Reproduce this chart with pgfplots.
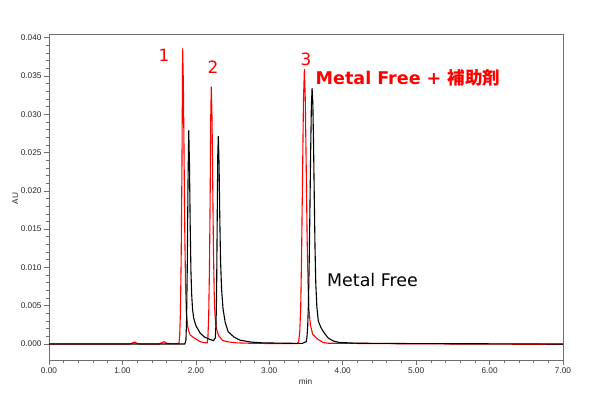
\documentclass[border=0pt]{standalone}
\usepackage{pgfplots}
\pgfplotsset{compat=1.18}
\usepackage{fontspec}
\setmainfont{Liberation Sans}
\newfontfamily\dejavu{DejaVu Sans}
\newfontfamily\cjk{Noto Sans CJK JP}
\definecolor{axgray}{RGB}{110,110,110}
\definecolor{tickcol}{RGB}{40,40,40}
\definecolor{pred}{RGB}{255,0,0}
\pgfplotstableread{
t v
0.00 0.00000
0.50 0.00000
1.10 0.00000
1.15 0.00020
1.17 0.00025
1.20 0.00005
1.25 0.00000
1.50 0.00000
1.54 0.00020
1.57 0.00030
1.60 0.00010
1.65 0.00005
1.75 0.00005
1.77 0.00012
1.78 0.00120
1.79 0.00420
1.80 0.01120
1.81 0.02220
1.82 0.03860
1.83 0.03400
1.84 0.02400
1.85 0.01400
1.86 0.00750
1.87 0.00420
1.89 0.00220
1.92 0.00120
1.96 0.00090
2.01 0.00060
2.06 0.00030
2.12 0.00017
2.155 0.00015
2.165 0.00100
2.175 0.00370
2.185 0.00970
2.195 0.01930
2.202 0.02920
2.21 0.03360
2.22 0.02960
2.23 0.02080
2.24 0.01210
2.25 0.00670
2.26 0.00380
2.28 0.00200
2.31 0.00110
2.36 0.00050
2.42 0.00030
2.55 0.00015
2.80 0.00008
3.20 0.00005
3.38 0.00005
3.40 0.00030
3.415 0.00160
3.428 0.00480
3.44 0.01170
3.453 0.02180
3.465 0.03160
3.478 0.03590
3.49 0.03200
3.503 0.02320
3.515 0.01400
3.528 0.00780
3.54 0.00450
3.56 0.00250
3.59 0.00130
3.65 0.00070
3.73 0.00020
3.80 0.00010
4.50 0.00005
5.50 0.00000
7.00 -0.00005
}\redtable
\pgfplotstableread{
t v
0.00 0.00000
1.00 0.00000
1.50 0.00000
1.85 0.00000
1.865 0.00050
1.873 0.00290
1.883 0.00990
1.893 0.02100
1.903 0.02790
1.913 0.02350
1.923 0.01550
1.933 0.00950
1.943 0.00650
1.955 0.00450
1.97 0.00340
2.00 0.00240
2.06 0.00140
2.12 0.00090
2.19 0.00060
2.24 0.00045
2.265 0.00080
2.275 0.00280
2.282 0.00600
2.29 0.01530
2.298 0.02450
2.306 0.02715
2.316 0.02350
2.326 0.01650
2.336 0.01100
2.35 0.00720
2.37 0.00460
2.40 0.00280
2.44 0.00160
2.52 0.00090
2.60 0.00050
2.75 0.00025
2.90 0.00015
3.20 0.00010
3.45 0.00008
3.503 0.00030
3.513 0.00090
3.523 0.00230
3.533 0.00530
3.543 0.01020
3.553 0.01720
3.563 0.02480
3.573 0.03100
3.583 0.03340
3.593 0.03150
3.603 0.02600
3.613 0.01900
3.623 0.01250
3.633 0.00800
3.648 0.00480
3.668 0.00300
3.70 0.00220
3.737 0.00160
3.80 0.00080
3.87 0.00040
3.95 0.00020
4.20 0.00010
5.00 0.00005
7.00 0.00000
}\blacktable
\begin{document}
\begin{tikzpicture}
\path[use as bounding box] (0,0) rectangle (600bp,393bp);
\begin{axis}[
  at={(49bp,33bp)}, anchor=south west,
  scale only axis, width=514bp, height=326bp,
  xmin=0, xmax=7, ymin=-0.00209, ymax=0.04048,
  axis line style={axgray, line width=0.8bp},
  tick style={axgray, line width=0.6bp},
  tick align=outside, tick pos=left,
  major tick length=5bp, minor tick length=3bp,
  xtick={0,1,2,3,4,5,6,7},
  ytick={0,0.005,0.01,0.015,0.02,0.025,0.03,0.035,0.04},
  minor x tick num=4, minor y tick num=4,
  scaled y ticks=false, scaled x ticks=false,
  ticklabel style={font=\fontsize{8.3}{9}\selectfont, text=tickcol},
  /pgf/number format/assume math mode=true,
  xticklabel style={/pgf/number format/.cd, fixed, fixed zerofill, precision=2},
  yticklabel style={/pgf/number format/.cd, fixed, fixed zerofill, precision=3},
  xticklabel shift=-1bp, yticklabel shift=-1bp,
]
\addplot[pred, line width=1.1bp, no marks] table[x=t, y=v] {\redtable};
\addplot[black, line width=1.1bp, no marks] table[x=t, y=v] {\blacktable};
\end{axis}
\node[rotate=90, font=\fontsize{8.3}{9}\selectfont, text=tickcol] at (15.3bp,194.5bp) {AU};
\node[font=\fontsize{8.3}{9}\selectfont, text=tickcol] at (305.5bp,11bp) {min};
\node[font=\dejavu\fontsize{17}{20}\selectfont, text=pred] at (164bp,338bp) {1};
\node[font=\dejavu\fontsize{17}{20}\selectfont, text=pred] at (213bp,326bp) {2};
\node[font=\dejavu\fontsize{17}{20}\selectfont, text=pred] at (306bp,334bp) {3};
\node[anchor=base west, inner sep=0pt, text=pred, font=\dejavu\bfseries\fontsize{17.6}{20}\selectfont] at (315.5bp,308bp) {Metal Free + {\cjk\bfseries 補助剤}};
\node[anchor=base west, inner sep=0pt, text=black, font=\dejavu\fontsize{17.5}{20}\selectfont] at (327bp,106.3bp) {Metal Free};
\end{tikzpicture}
\end{document}
